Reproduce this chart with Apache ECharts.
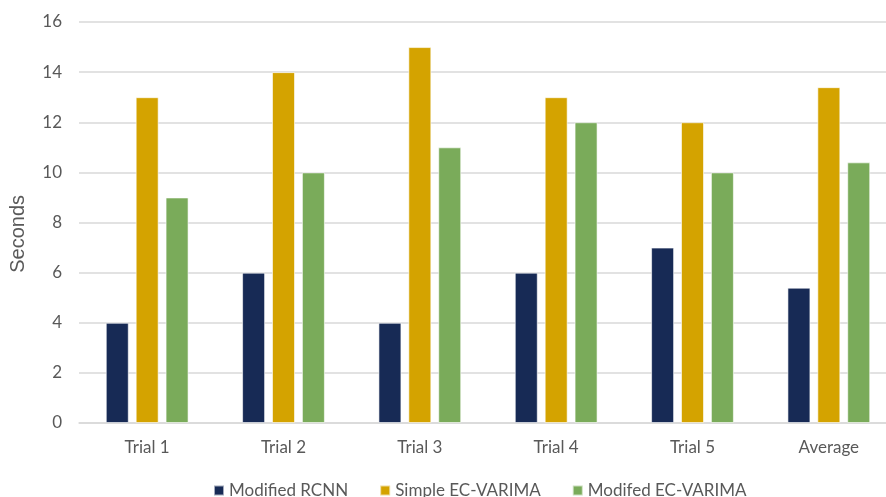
<!DOCTYPE html>
<html><head><meta charset="utf-8">
<script src="https://cdn.jsdelivr.net/npm/echarts@6/dist/echarts.min.js"></script>
<style>html,body{margin:0;padding:0;background:#fff}#c{width:886px;height:497px}</style>
</head><body><div id="c"></div>
<script>
const categories = ['Trial 1','Trial 2','Trial 3','Trial 4','Trial 5','Average'];
const modifiedRCNN = [4, 6, 4, 6, 7, 5.4];
const simpleECVARIMA = [13, 14, 15, 13, 12, 13.4];
const modifedECVARIMA = [9, 10, 11, 12, 10, 10.4];
const seriesNames = ['Modified RCNN','Simple EC-VARIMA','Modifed EC-VARIMA'];
const yAxisTitle = 'Seconds';
const colors = ['#172a55','#d4a300','#7aab5a'];
const font = 'Lato, "Open Sans", sans-serif';
const chart = echarts.init(document.getElementById('c'));
const mk = (name, data, color) => ({
  name, type: 'bar', data, barWidth: 23, barGap: '30%',
  itemStyle: { color, borderColor: 'rgba(255,255,255,0.6)', borderWidth: 1 }
});
chart.setOption({
  animation: false,
  textStyle: { fontFamily: font },
  grid: { left: 79, width: 818, top: 22, height: 401, containLabel: false, outerBoundsMode: 'none' },
  legend: {
    top: 477, left: 208, itemWidth: 10, itemHeight: 10, itemGap: 31,
    icon: 'rect',
    textStyle: { color: '#595959', fontSize: 17, fontFamily: font },
    data: seriesNames
  },
  graphic: [{
    type: 'text', left: 8, top: 195, rotation: Math.PI / 2,
    style: { text: yAxisTitle, fill: '#595959', font: '20px "Liberation Sans", Arial, sans-serif' }
  }],
  xAxis: {
    type: 'category', data: categories,
    axisLine: { lineStyle: { color: '#d9d9d9', width: 1.5 } },
    axisTick: { show: false },
    axisLabel: { color: '#595959', fontSize: 17, margin: 16, fontFamily: font }
  },
  yAxis: {
    type: 'value', min: 0, max: 16, interval: 2,
    axisLine: { show: false }, axisTick: { show: false },
    axisLabel: { color: '#595959', fontSize: 17, margin: 17, fontFamily: font },
    splitLine: { lineStyle: { color: '#d9d9d9', width: 1.5 } }
  },
  series: [
    mk(seriesNames[0], modifiedRCNN, colors[0]),
    mk(seriesNames[1], simpleECVARIMA, colors[1]),
    mk(seriesNames[2], modifedECVARIMA, colors[2])
  ]
});
</script></body></html>
